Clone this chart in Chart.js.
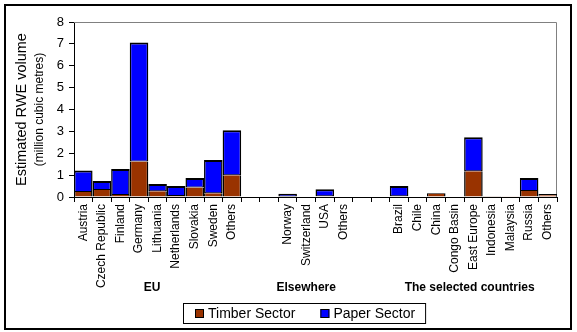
<!DOCTYPE html>
<html>
<head>
<meta charset="utf-8">
<script src="https://cdn.jsdelivr.net/npm/chart.js@4"></script>
<style>
  body { margin: 0; background: #fff; }
  #wrap { width: 577px; height: 332px; }
</style>
</head>
<body>
<div id="wrap"><canvas id="grafico" width="577" height="332"></canvas></div>
<script>
const categorias = [
  'Austria', 'Czech Republic', 'Finland', 'Germany', 'Lithuania', 'Netherlands', 'Slovakia', 'Sweden', 'Others',
  '', '',
  'Norway', 'Switzerland', 'USA', 'Others',
  '', '',
  'Brazil', 'Chile', 'China', 'Congo Basin', 'East Europe', 'Indonesia', 'Malaysia', 'Russia', 'Others'
];

const timber = [
  0.23, 0.32, 0.09, 1.62, 0.26, 0.05, 0.44, 0.17, 1.0,
  null, null,
  0, 0, 0.03, 0,
  null, null,
  0.03, 0, 0.15, 0, 1.18, 0.03, 0.03, 0.27, 0.08
];

const paper = [
  0.98, 0.41, 1.19, 5.44, 0.33, 0.45, 0.43, 1.52, 2.05,
  null, null,
  0.15, 0, 0.33, 0,
  null, null,
  0.47, 0, 0.03, 0, 1.55, 0.02, 0.01, 0.60, 0.06
];

const yTicks = [0, 1, 2, 3, 4, 5, 6, 7, 8];

// grupos embaixo dos rótulos (posição em índice de categoria)
const grupos = [
  { nome: 'EU', pos: 3.7 },
  { nome: 'Elsewhere', pos: 12.0 },
  { nome: 'The selected countries', pos: 20.8 }
];

const FONTE = '"Liberation Sans", Arial, sans-serif';
Chart.defaults.font.family = FONTE;
Chart.defaults.color = '#000';

const extras = {
  id: 'extras',
  beforeDatasetsDraw(chart) {
    const { ctx, chartArea: a } = chart;
    ctx.save();
    ctx.strokeStyle = '#808080';
    ctx.lineWidth = 1;
    ctx.beginPath();
    ctx.moveTo(a.left, a.top + 0.5);
    ctx.lineTo(a.right - 0.5, a.top + 0.5);
    ctx.lineTo(a.right - 0.5, a.bottom);
    ctx.stroke();
    ctx.restore();
  },
  afterDraw(chart) {
    const { ctx, chartArea: a } = chart;
    const xs = chart.scales.x;
    ctx.save();
    ctx.fillStyle = '#000';

    // título do eixo y
    const cy = (a.top + a.bottom) / 2;
    ctx.translate(22, cy);
    ctx.rotate(-Math.PI / 2);
    ctx.textAlign = 'center';
    ctx.textBaseline = 'middle';
    ctx.font = '14.5px ' + FONTE;
    ctx.fillText('Estimated RWE volume', 0, 0);
    ctx.font = '12px ' + FONTE;
    ctx.fillText('(million cubic metres)', 0, 18);
    ctx.setTransform(1, 0, 0, 1, 0, 0);

    // nomes dos grupos
    ctx.font = 'bold 12px ' + FONTE;
    grupos.forEach(g => {
      ctx.fillText(g.nome, xs.getPixelForValue(g.pos), 288);
    });

    // legenda
    ctx.font = '14px ' + FONTE;
    ctx.textAlign = 'left';
    const boxL = 183, boxT = 303, boxB = 323;
    let x = boxL + 12;
    const my = (boxT + boxB) / 2;
    chart.data.datasets.forEach((ds, i) => {
      ctx.fillStyle = ds.backgroundColor;
      ctx.fillRect(x, my - 4, 9, 9);
      ctx.strokeStyle = '#000';
      ctx.lineWidth = 1;
      ctx.strokeRect(x + 0.5, my - 3.5, 8, 8);
      ctx.fillStyle = '#000';
      ctx.fillText(ds.label, x + 13, my + 1);
      x += 13 + ctx.measureText(ds.label).width + (i === 0 ? 25 : 11);
    });
    ctx.strokeStyle = '#000';
    ctx.lineWidth = 1;
    ctx.strokeRect(boxL + 0.5, boxT + 0.5, x - boxL - 1, boxB - boxT);

    // moldura externa
    ctx.lineWidth = 2;
    ctx.strokeRect(5, 5, 566, 324);
    ctx.restore();
  }
};

new Chart(document.getElementById('grafico').getContext('2d'), {
  type: 'bar',
  data: {
    labels: categorias,
    datasets: [
      {
        label: 'Timber Sector',
        data: timber,
        backgroundColor: '#993300',
        borderColor: '#000',
        // sem topo quando tem papel em cima (a linha fica com a barra azul)
        borderWidth: c => ({ left: 1.5, right: 1.5, bottom: 0, top: paper[c.dataIndex] > 0 ? 0 : 2 }),
        borderSkipped: false,
        inflateAmount: 0
      },
      {
        label: 'Paper Sector',
        data: paper,
        backgroundColor: '#0000FF',
        borderColor: '#000',
        borderWidth: { left: 1.5, right: 1.5, bottom: 1, top: 2 },
        borderSkipped: false,
        inflateAmount: 0
      }
    ]
  },
  options: {
    responsive: false,
    animation: false,
    layout: { padding: { top: 22, right: 20, left: 0, bottom: 0 } },
    plugins: {
      legend: { display: false },
      tooltip: { enabled: false }
    },
    datasets: {
      bar: { barPercentage: 1, categoryPercentage: 1 }
    },
    scales: {
      x: {
        stacked: true,
        offset: true,
        afterFit(scale) { scale.height = 135; },
        grid: { offset: true, drawOnChartArea: false, tickLength: 5, color: '#000' },
        border: { color: '#000', width: 1 },
        ticks: {
          autoSkip: false,
          minRotation: 90,
          maxRotation: 90,
          padding: 2,
          font: { size: 12 }
        }
      },
      y: {
        stacked: true,
        min: 0,
        max: 8,
        afterFit(scale) { scale.width = 74; },
        afterBuildTicks(scale) { scale.ticks = yTicks.map(v => ({ value: v })); },
        grid: { drawOnChartArea: false, tickLength: 5, color: '#000' },
        border: { color: '#000', width: 1 },
        ticks: { padding: 5, font: { size: 13 } }
      }
    }
  },
  plugins: [extras]
});
</script>
</body>
</html>
